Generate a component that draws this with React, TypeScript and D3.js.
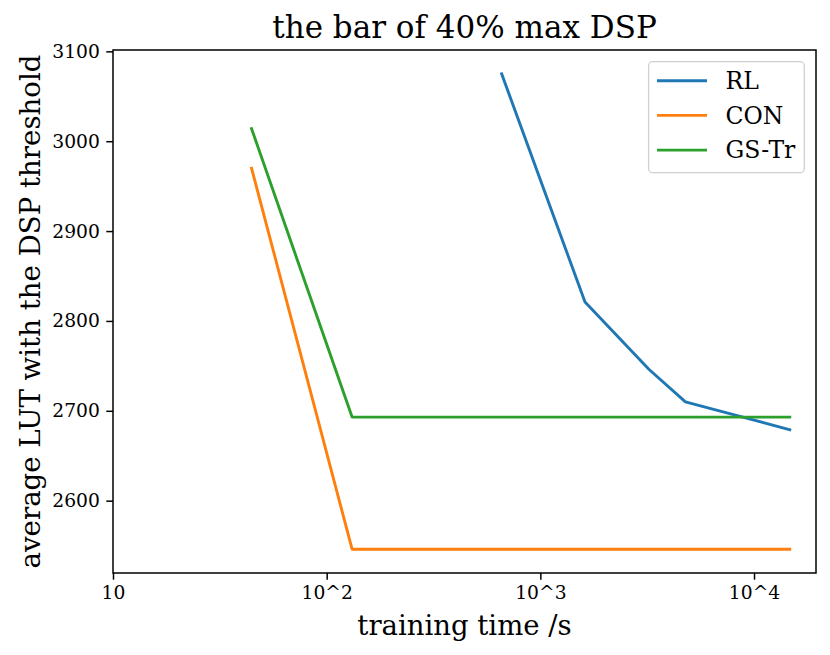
import { useEffect, useRef } from 'react';
import * as d3 from 'd3';

const rlTime = [659, 1618, 3228, 4775, 14700];
const rlLut = [3075, 2821, 2746, 2710, 2679];

const conTime = [44.5, 131.5, 14700];
const conLut = [2970, 2546, 2546];

const gsTime = [44.5, 131.5, 14700];
const gsLut = [3014, 2693, 2693];

const xTickValues = [10, 100, 1000, 10000];
const xTickLabels = ['10', '10^2', '10^3', '10^4'];
const yTickValues = [2600, 2700, 2800, 2900, 3000, 3100];

const seriesNames = ['RL', 'CON', 'GS-Tr'];
const seriesColors = ['#1f77b4', '#ff7f0e', '#2ca02c'];

const FONT = '"DejaVu Serif", serif';

export default function App() {
  const svgRef = useRef<SVGSVGElement>(null);
  const width = 830;
  const height = 655;

  useEffect(() => {
    if (!svgRef.current) return;
    const svg = d3.select(svgRef.current);
    svg.selectAll('*').remove();

    const margin = { top: 50, right: 14, bottom: 82, left: 113 };
    const innerWidth = width - margin.left - margin.right;
    const innerHeight = height - margin.top - margin.bottom;

    const g = svg.append('g').attr('transform', `translate(${margin.left},${margin.top})`);

    const xScale = d3.scaleLog().domain([10, 19500]).range([0, innerWidth]);
    const yScale = d3.scaleLinear().domain([2519.5, 3101.5]).range([innerHeight, 0]);

    const series = [
      { name: seriesNames[0], color: seriesColors[0], xs: rlTime, ys: rlLut },
      { name: seriesNames[1], color: seriesColors[1], xs: conTime, ys: conLut },
      { name: seriesNames[2], color: seriesColors[2], xs: gsTime, ys: gsLut },
    ];

    const line = d3.line<[number, number]>()
      .x(d => xScale(d[0]))
      .y(d => yScale(d[1]));

    series.forEach(s => {
      const pts = s.xs.map((x, i) => [x, s.ys[i]] as [number, number]);
      g.append('path')
        .datum(pts)
        .attr('fill', 'none')
        .attr('stroke', s.color)
        .attr('stroke-width', 2.9)
        .attr('stroke-linejoin', 'round')
        .attr('stroke-linecap', 'square')
        .attr('d', line);
    });

    // axes
    const xAxis = d3.axisBottom(xScale)
      .tickValues(xTickValues)
      .tickFormat((_d, i) => xTickLabels[i])
      .tickSize(6.7)
      .tickPadding(6);

    const yAxis = d3.axisLeft(yScale)
      .tickValues(yTickValues)
      .tickFormat(d => `${d}`)
      .tickSize(6.7)
      .tickPadding(6.5);

    const gx = g.append('g')
      .attr('transform', `translate(0,${innerHeight})`)
      .call(xAxis);
    gx.select('.domain').remove();
    gx.selectAll('line').attr('stroke', '#000').attr('stroke-width', 1.5);
    gx.selectAll('text')
      .attr('font-family', FONT)
      .attr('font-size', '18.7px')
      .attr('fill', '#000');

    const gy = g.append('g').call(yAxis);
    gy.select('.domain').remove();
    gy.selectAll('line').attr('stroke', '#000').attr('stroke-width', 1.5);
    gy.selectAll('text')
      .attr('font-family', FONT)
      .attr('font-size', '18.7px')
      .attr('fill', '#000');

    // frame
    g.append('rect')
      .attr('x', 0)
      .attr('y', 0)
      .attr('width', innerWidth)
      .attr('height', innerHeight)
      .attr('fill', 'none')
      .attr('stroke', '#000')
      .attr('stroke-width', 1.5);

    // legend
    const fs = 23.5;
    const legX = innerWidth - 11.7 - 155.7;
    const legY = 11.7;
    const legend = g.append('g').attr('transform', `translate(${legX},${legY})`);
    legend.append('rect')
      .attr('width', 155.7)
      .attr('height', 111)
      .attr('rx', 4)
      .attr('fill', '#fff')
      .attr('fill-opacity', 0.8)
      .attr('stroke', '#d0d0d0')
      .attr('stroke-width', 1.3);
    series.forEach((s, i) => {
      const cy = 19 + i * 34.7;
      legend.append('line')
        .attr('x1', 8.4)
        .attr('x2', 58.4)
        .attr('y1', cy)
        .attr('y2', cy)
        .attr('stroke', s.color)
        .attr('stroke-width', 2.9);
      legend.append('text')
        .attr('x', 77)
        .attr('y', cy + 8.3)
        .attr('font-family', FONT)
        .attr('font-size', `${fs}px`)
        .attr('fill', '#000')
        .text(s.name);
    });

    // title and labels
    svg.append('text')
      .attr('x', margin.left + innerWidth / 2)
      .attr('y', 38)
      .attr('text-anchor', 'middle')
      .attr('font-family', FONT)
      .attr('font-size', '31px')
      .attr('fill', '#000')
      .text('the bar of 40% max DSP');

    svg.append('text')
      .attr('x', margin.left + innerWidth / 2)
      .attr('y', 635)
      .attr('text-anchor', 'middle')
      .attr('font-family', FONT)
      .attr('font-size', '27.5px')
      .attr('fill', '#000')
      .text('training time /s');

    svg.append('text')
      .attr('transform', 'rotate(-90)')
      .attr('x', -(margin.top + innerHeight / 2))
      .attr('y', 39.5)
      .attr('text-anchor', 'middle')
      .attr('font-family', FONT)
      .attr('font-size', '27.6px')
      .attr('fill', '#000')
      .text('average LUT with the DSP threshold');
  }, []);

  return (
    <svg
      ref={svgRef}
      width={width}
      height={height}
      style={{ position: 'absolute', left: 0, top: 0, background: '#fff' }}
    />
  );
}
